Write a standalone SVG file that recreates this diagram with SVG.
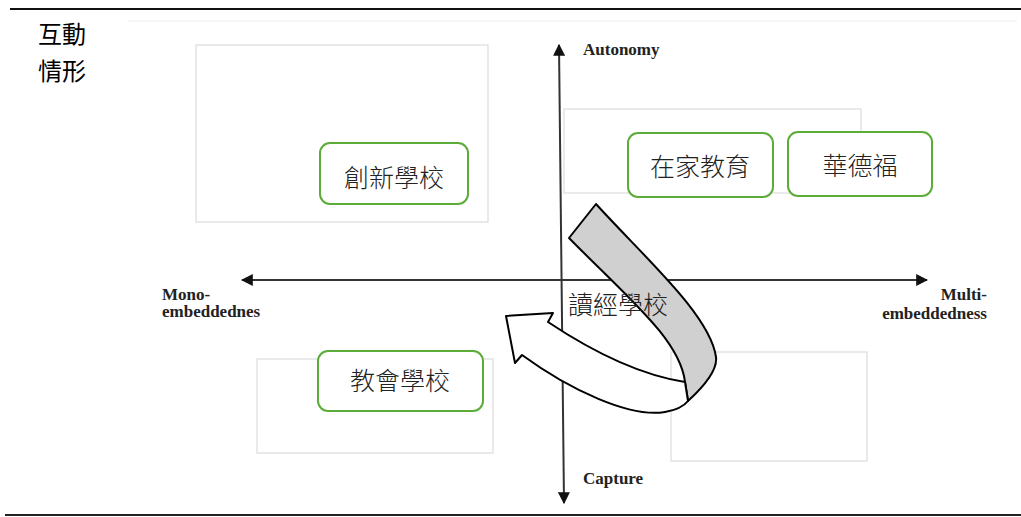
<svg xmlns="http://www.w3.org/2000/svg" width="1021" height="517" viewBox="0 0 1021 517">
<style>
.frame{fill:none;stroke:#dcdcdc;stroke-width:1.2}
.node{fill:#fff;stroke:#5cac3a;stroke-width:2}
.zh{font-family:"Noto Sans CJK TC","Noto Sans CJK SC",sans-serif;font-weight:300;fill:#222;text-anchor:middle}
.title{font-family:"Noto Sans CJK TC","Noto Sans CJK SC",sans-serif;font-weight:400;fill:#000;text-anchor:middle;font-size:24px}
.lab{font-family:"Liberation Serif",serif;font-weight:bold;font-size:17px;fill:#222}
.axis{stroke:#333;stroke-width:2;fill:none}
</style>
<defs>
<marker id="ah" viewBox="0 0 10 10" refX="9" refY="5" markerWidth="6" markerHeight="6" orient="auto-start-reverse" markerUnits="strokeWidth">
<path d="M0,0 L10,5 L0,10 Z" fill="#111"/>
</marker>
</defs>
<rect width="1021" height="517" fill="#fff"/>
<line x1="10" y1="9" x2="1021" y2="9" stroke="#111" stroke-width="2"/>
<line x1="5" y1="515" x2="1021" y2="515" stroke="#222" stroke-width="2"/>
<line x1="128" y1="21" x2="1017" y2="21" stroke="#f3f3f3" stroke-width="1.5"/>
<text class="title" x="62" y="43">互動</text>
<text class="title" x="62" y="80">情形</text>
<g id="frames">
<rect class="frame" x="196" y="45" width="292" height="177"/>
<rect class="frame" x="564" y="109" width="297" height="84"/>
<rect class="frame" x="257" y="359" width="236" height="94"/>
<rect class="frame" x="671" y="352" width="196" height="109"/>
</g>
<g id="connectors">
<line class="axis" x1="242" y1="280" x2="927" y2="280" marker-start="url(#ah)" marker-end="url(#ah)"/>
<line class="axis" x1="559" y1="45" x2="564" y2="503" marker-start="url(#ah)" marker-end="url(#ah)"/>
</g>
<g id="cycle-arrow">
<path d="M569,238 L596,204 C645,258 710,315 716,357 C718,372 700,390 688,401 L685,382 C680,340 630,300 569,238 Z" fill="#d0d0d0" stroke="#000" stroke-width="2" stroke-linejoin="round"/>
<path d="M685,382 C640,375 590,350 548,322 L553,313 L506,316 L515,363 L522,355 C570,390 630,418 665,412 C677,410 684,406 688,401 Z" fill="#fff" stroke="#000" stroke-width="2" stroke-linejoin="round"/>
</g>
<g id="axis-labels">
<text class="lab" x="583" y="55">Autonomy</text>
<text class="lab" x="583" y="484">Capture</text>
<text class="lab" x="162" y="300">Mono-</text>
<text class="lab" x="162" y="317">embeddednes</text>
<text class="lab" x="987" y="300" text-anchor="end">Multi-</text>
<text class="lab" x="987" y="319" text-anchor="end">embeddedness</text>
</g>
<g id="node-innovative">
<rect class="node" x="320" y="143" width="148" height="61" rx="10"/>
<text class="zh" x="394" y="187" font-size="25">創新學校</text>
</g>
<g id="node-homeschool">
<rect class="node" x="628" y="133" width="145" height="64" rx="10"/>
<text class="zh" x="700" y="176" font-size="25">在家教育</text>
</g>
<g id="node-waldorf">
<rect class="node" x="788" y="132" width="144" height="64" rx="10"/>
<text class="zh" x="860" y="175" font-size="25">華德福</text>
</g>
<g id="node-church">
<rect class="node" x="318" y="351" width="165" height="60" rx="10"/>
<text class="zh" x="400" y="390" font-size="25">教會學校</text>
</g>
<g id="node-classics">
<text class="zh" x="618" y="314" font-size="25">讀經學校</text>
</g>
</svg>
